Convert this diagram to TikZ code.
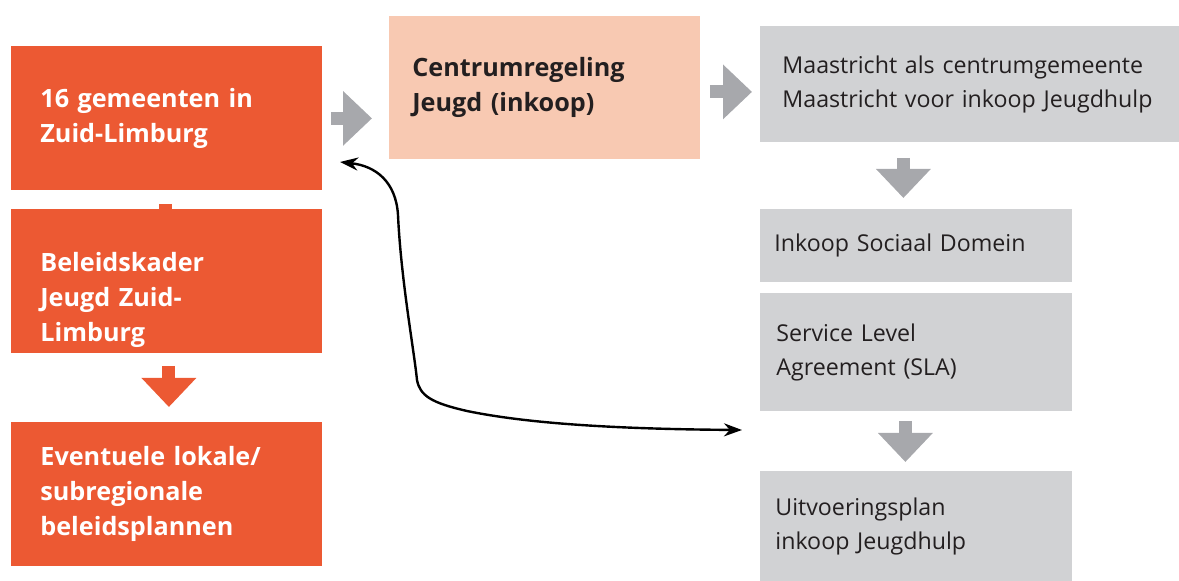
\documentclass[tikz,border=0pt]{standalone}
\usepackage{fontspec}
\setmainfont{Open Sans}
\usetikzlibrary{arrows.meta}

\definecolor{oranje}{RGB}{236,89,51}
\definecolor{zalm}{RGB}{248,201,178}
\definecolor{lichtgrijs}{RGB}{209,210,212}
\definecolor{pijlgrijs}{RGB}{167,168,172}
\definecolor{donker}{RGB}{35,31,32}

\newcommand{\bloktekst}{\fontsize{11.6pt}{17pt}\selectfont}
\newcommand{\vettekst}{\fontsize{12.6pt}{17.5pt}\selectfont\bfseries}

\tikzset{
  % blok: breedte, hoogte, marge links
  blok/.style n args={3}{rectangle, anchor=north west, inner ysep=0pt,
    minimum width=#1, minimum height=#2, text width=#1-2*#3, align=left},
  oranjeblok/.style={fill=oranje, text=white, font=\vettekst},
  zalmblok/.style={fill=zalm, text=donker, font=\vettekst},
  grijsblok/.style={fill=lichtgrijs, text=donker, font=\bloktekst},
  grijspijl/.style={pijlgrijs, line width=6.5pt, -{Triangle[length=14.5pt,width=26.5pt]}},
  oranjepijl/.style={oranje, line width=6.5pt, -{Triangle[length=14.5pt,width=26.5pt]}},
}

\begin{document}
\begin{tikzpicture}[x=0.5pt, y=-0.5pt]
  \useasboundingbox (0,0) rectangle (1179,581);

  % Linker kolom:
  % de eerste pijl valt bijna helemaal achter het tweede blok
  \node[blok={155.5pt}{72pt}{14.5pt}, oranjeblok] (gemeenten) at (11,46) {16 gemeenten in\\Zuid-Limburg};
  \draw[oranjepijl] ([xshift=-0.5pt,yshift=-6.5pt]gemeenten.south) -- ++(0,42);
  \node[blok={155.5pt}{72pt}{14.5pt}, oranjeblok, text height=28pt] (kader) at (11,209) {Beleidskader\\Jeugd Zuid-\\Limburg};
  \node[blok={155.5pt}{72pt}{14.5pt}, oranjeblok] (lokaal) at (11,422) {Eventuele lokale/\\subregionale\\beleidsplannen};
  \draw[oranjepijl] ([xshift=1pt,yshift=-6pt]kader.south) -- ([xshift=1pt,yshift=7.5pt]lokaal.north);

  % Midden en rechter kolom:
  \node[blok={155.5pt}{71.5pt}{11.5pt}, zalmblok] (centrum) at (389,16) {Centrumregeling\\Jeugd (inkoop)};
  \node[blok={230pt}{58pt}{11pt}, grijsblok] (maastricht) at (760,26) {Maastricht als centrumgemeente\\Maastricht voor inkoop Jeugdhulp};
  \node[blok={156pt}{36.5pt}{7pt}, grijsblok] (inkoop) at (760,209) {Inkoop Sociaal Domein};
  \node[blok={156pt}{59pt}{8pt}, grijsblok] (sla) at (760,293) {Service Level\\Agreement (SLA)};
  \node[blok={156pt}{55pt}{7.5pt}, grijsblok] (plan) at (760,471) {Uitvoeringsplan\\inkoop Jeugdhulp};

  % Grijze pijlen:
  \draw[grijspijl] ([xshift=4pt]gemeenten.east) -- ([xshift=-8.5pt]gemeenten.east -| centrum.west);
  \draw[grijspijl] ([xshift=4.5pt,yshift=-2pt]centrum.east) -- ([xshift=-4pt,yshift=-2pt]centrum.east -| maastricht.west);
  \draw[grijspijl] ([xshift=-6.5pt,yshift=-7.5pt]inkoop.north |- maastricht.south) -- ([xshift=-6.5pt,yshift=5.5pt]inkoop.north);
  \draw[grijspijl] ([xshift=-5.5pt,yshift=-4.5pt]plan.north |- sla.south) -- ([xshift=-5.5pt,yshift=4.5pt]plan.north);

  % Dubbele pijl tussen de gemeenten en de inkoop:
  \coordinate (terug) at (340,162);
  \coordinate (heen) at (742,430);
  \draw[black, line width=1.2pt, {Stealth[length=9pt,width=6.5pt]}-{Stealth[length=9pt,width=6.5pt]}]
    (terug) .. controls (376,166) and (396,182) .. (398,215)
    .. controls (401,280) and (414,350) .. (417,380)
    .. controls (420,396) and (432,403) .. (467,411)
    .. controls (525,423) and (610,429) .. (heen);
\end{tikzpicture}
\end{document}
